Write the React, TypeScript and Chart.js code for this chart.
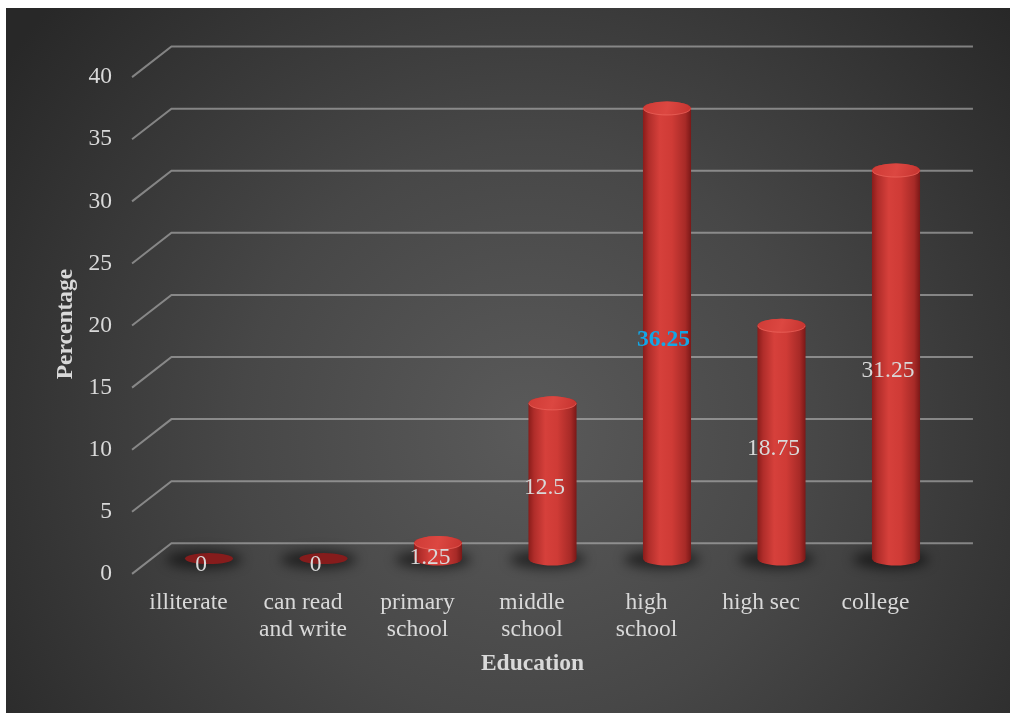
import React, { useEffect, useRef } from "react";
import { Chart, registerables } from "chart.js";

Chart.register(...registerables);

const categories: (string | string[])[] = [
  "illiterate",
  ["can read", "and write"],
  ["primary", "school"],
  ["middle", "school"],
  ["high", "school"],
  "high sec",
  "college",
];
const percentages = [0, 0, 1.25, 12.5, 36.25, 18.75, 31.25];
const yMin = 0;
const yMax = 40;
const yStep = 5;
const xTitle = "Education";
const yTitle = "Percentage";
const highlightIndex = 4;

const FONT = "'Liberation Serif', 'Times New Roman', serif";
const TEXT = "#d9d9d9";
const DX = 19.7;
const DY = 15.3;

const bgPlugin = {
  id: "bg3d",
  beforeDraw(chart: any) {
    const { ctx, width, height } = chart;
    ctx.save();
    const g = ctx.createRadialGradient(width * 0.52, height * 0.6, 0, width * 0.52, height * 0.6, 640);
    g.addColorStop(0, "#5a5a5a");
    g.addColorStop(0.45, "#474747");
    g.addColorStop(1, "#282828");
    ctx.fillStyle = g;
    ctx.fillRect(0, 0, width, height);
    ctx.restore();
  },
  beforeDatasetsDraw(chart: any) {
    const { ctx, chartArea } = chart;
    const ys = chart.scales.y;
    ctx.save();
    ctx.strokeStyle = "rgba(185,185,185,0.6)";
    ctx.lineWidth = 2;
    ys.ticks.forEach((t: any) => {
      const py = ys.getPixelForValue(t.value);
      ctx.beginPath();
      ctx.moveTo(chartArea.left - DX, py + DY);
      ctx.lineTo(chartArea.left + DX, py - DY);
      ctx.lineTo(chartArea.right + DX, py - DY);
      ctx.stroke();
    });
    ctx.restore();
  },
  afterDatasetsDraw(chart: any) {
    const { ctx } = chart;
    const meta = chart.getDatasetMeta(0);
    const ry = 7;
    ctx.save();
    meta.data.forEach((el: any) => {
      const { x, base, width } = el.getProps(["x", "base", "width"], true);
      const rx = width / 2;
      ctx.save();
      ctx.filter = "blur(6px)";
      ctx.fillStyle = "rgba(0,0,0,0.55)";
      ctx.beginPath();
      ctx.ellipse(x - 5, base + 1, rx + 14, 9, 0, 0, Math.PI * 2);
      ctx.fill();
      ctx.restore();
    });
    meta.data.forEach((el: any, i: number) => {
      const { x, y, base, width } = el.getProps(["x", "y", "base", "width"], true);
      const rx = width / 2;
      const v = percentages[i];
      if (v <= 0) {
        ctx.fillStyle = "#861c1c";
        ctx.beginPath();
        ctx.ellipse(x, base, rx, 5.5, 0, 0, Math.PI * 2);
        ctx.fill();
        return;
      }
      const g = ctx.createLinearGradient(x - rx, 0, x + rx, 0);
      g.addColorStop(0, "#8a1c1a");
      g.addColorStop(0.12, "#b02d2a");
      g.addColorStop(0.35, "#d6403b");
      g.addColorStop(0.6, "#cf3b36");
      g.addColorStop(0.88, "#a72a27");
      g.addColorStop(1, "#7a1817");
      ctx.fillStyle = g;
      ctx.beginPath();
      ctx.moveTo(x - rx, y);
      ctx.lineTo(x - rx, base);
      ctx.ellipse(x, base, rx, ry, 0, Math.PI, 0, true);
      ctx.lineTo(x + rx, y);
      ctx.ellipse(x, y, rx, ry, 0, 0, Math.PI, true);
      ctx.closePath();
      ctx.fill();
      const tg = ctx.createLinearGradient(x - rx, y - ry, x + rx, y + ry);
      tg.addColorStop(0, "#cf3b36");
      tg.addColorStop(0.5, "#dc4741");
      tg.addColorStop(1, "#c4332f");
      ctx.fillStyle = tg;
      ctx.beginPath();
      ctx.ellipse(x, y, rx, ry, 0, 0, Math.PI * 2);
      ctx.fill();
      ctx.strokeStyle = "rgba(240,110,100,0.55)";
      ctx.lineWidth = 1;
      ctx.beginPath();
      ctx.ellipse(x, y, rx - 0.5, ry - 0.5, 0, 0, Math.PI, false);
      ctx.stroke();
    });
    ctx.textAlign = "center";
    ctx.textBaseline = "middle";
    meta.data.forEach((el: any, i: number) => {
      const { x, y, base } = el.getProps(["x", "y", "base"], true);
      const hl = i === highlightIndex;
      ctx.font = `${hl ? "bold " : ""}23.5px ${FONT}`;
      ctx.fillStyle = hl ? "#12a6e6" : TEXT;
      ctx.fillText(String(percentages[i]), x - (hl ? 3.5 : 8), (y + base) / 2 + 6.5);
    });
    ctx.restore();
  },
  afterDraw(chart: any) {
    const { ctx } = chart;
    ctx.save();
    ctx.fillStyle = TEXT;
    ctx.font = `bold 23.5px ${FONT}`;
    ctx.textAlign = "center";
    ctx.textBaseline = "middle";
    ctx.fillText(xTitle, 526.5, 656);
    ctx.translate(60, 316);
    ctx.rotate(-Math.PI / 2);
    ctx.fillText(yTitle, 0, 0);
    ctx.restore();
  },
};

export default function App() {
  const ref = useRef<HTMLCanvasElement>(null);
  useEffect(() => {
    if (!ref.current) return;
    const chart = new Chart(ref.current, {
      type: "bar",
      data: {
        labels: categories as any,
        datasets: [
          {
            data: percentages,
            backgroundColor: "rgba(0,0,0,0)",
            borderWidth: 0,
            barPercentage: 0.42,
            categoryPercentage: 1,
          },
        ],
      },
      options: {
        animation: false,
        responsive: false,
        layout: { padding: { left: 45.75, right: 56.75, top: 51.6, bottom: 54.4 } },
        plugins: { legend: { display: false }, tooltip: { enabled: false } },
        scales: {
          x: {
            grid: { display: false, drawTicks: false },
            border: { display: false },
            afterFit(scale: any) {
              scale.height = 100;
            },
            ticks: {
              color: TEXT,
              font: { family: FONT, size: 23.5, lineHeight: 1.15 },
              padding: 31,
              labelOffset: -20.5,
              autoSkip: false,
              maxRotation: 0,
            },
          },
          y: {
            min: yMin,
            max: yMax,
            grid: { display: false, drawTicks: false },
            border: { display: false },
            afterFit(scale: any) {
              scale.width = 100;
            },
            ticks: {
              stepSize: yStep,
              color: TEXT,
              font: { family: FONT, size: 23.5 },
              padding: 39.75,
              labelOffset: 15.3,
            },
          },
        },
      },
      plugins: [bgPlugin],
    });
    return () => chart.destroy();
  }, []);
  return (
    <div style={{ position: "fixed", left: 6, top: 8, width: 1004, height: 705 }}>
      <canvas ref={ref} width={1004} height={705} />
    </div>
  );
}
